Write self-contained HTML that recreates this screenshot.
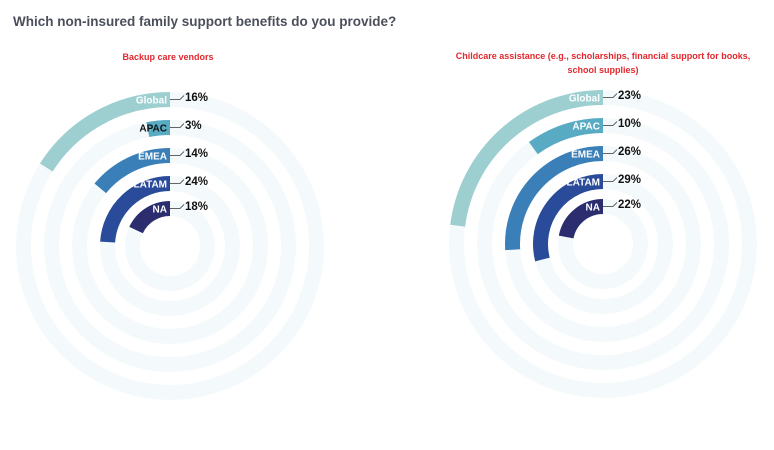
<!DOCTYPE html>
<html><head><meta charset="utf-8"><style>
html,body{margin:0;padding:0;background:#fff;}
svg{display:block;font-family:"Liberation Sans",Arial,sans-serif;}
</style></head><body>
<svg id="s" width="774" height="450" viewBox="0 0 774 450">
<text x="13" y="26" font-size="13.5" font-weight="bold" fill="#4a4f5a">Which non-insured family support benefits do you provide?</text>
<text x="168" y="60" font-size="9" font-weight="bold" fill="#e0282e" text-anchor="middle">Backup care vendors</text>
<text x="603" y="59" font-size="9" font-weight="bold" fill="#e0282e" text-anchor="middle">Childcare assistance (e.g., scholarships, financial support for books,</text>
<text x="603" y="73" font-size="9" font-weight="bold" fill="#e0282e" text-anchor="middle">school supplies)</text>
<g id="g"></g>
</svg>
<script>
var NS="http://www.w3.org/2000/svg",g=document.getElementById('g');
function el(t,a,txt){var e=document.createElementNS(NS,t);for(var k in a)e.setAttribute(k,a[k]);if(txt)e.textContent=txt;g.appendChild(e);return e;}
var radii=[146.5,118.5,90.5,62.5,37.5],w=15;
var cols=['#9dcfd1','#58abc2','#3a7fb8','#2a4a9a','#2b2d6e'];
var names=['Global','APAC','EMEA','LATAM','NA'];
function chart(cx,cy,vals){
 radii.forEach(function(r){el('circle',{cx:cx,cy:cy,r:r,fill:'none',stroke:'#f4fafb','stroke-width':w});});
 radii.forEach(function(r,i){
  var a=vals[i]/100*2*Math.PI;
  var x=cx-r*Math.sin(a),y=cy-r*Math.cos(a);
  el('path',{d:'M'+cx+' '+(cy-r)+' A'+r+' '+r+' 0 '+(a>Math.PI?1:0)+' 0 '+x.toFixed(2)+' '+y.toFixed(2),fill:'none',stroke:cols[i],'stroke-width':w});
  var ty=cy-r+4;
  el('text',{x:cx-3,y:ty,'font-size':10,'font-weight':'bold',fill:(vals[i]<5?'#111':'#fff'),'text-anchor':'end'},names[i]);
  el('path',{d:'M'+cx+' '+(cy-r)+' H'+(cx+10)+' L'+(cx+14)+' '+(cy-r-4),fill:'none',stroke:'#333','stroke-width':0.8});
  el('text',{x:cx+15,y:cy-r+1.5,'font-size':11.5,'font-weight':'bold',fill:'#111'},vals[i]+'%');
 });
}
chart(170,246,[16,3,14,24,18]);
chart(603,244,[23,10,26,29,22]);
</script>
</body></html>
